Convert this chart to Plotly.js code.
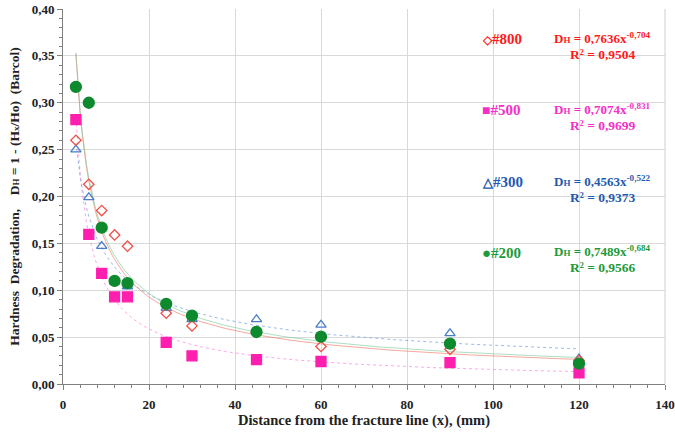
<!DOCTYPE html>
<html>
<head>
<meta charset="utf-8">
<script src="https://cdn.plot.ly/plotly-3.0.1.min.js"></script>
<style>html,body{margin:0;padding:0;background:#fff;}#chart{width:675px;height:432px;}</style>
</head>
<body>
<div id="chart"></div>
<script>
const distance = [3, 6, 9, 12, 15, 24, 30, 45, 60, 90, 120];
const grit800 = [0.260, 0.213, 0.185, 0.159, 0.147, 0.0755, 0.062, 0.055, 0.040, 0.037, 0.025];
const grit500 = [0.282, 0.1595, 0.118, 0.093, 0.093, 0.0445, 0.030, 0.026, 0.024, 0.0228, 0.0118];
const grit300 = [0.250, 0.199, 0.147, 0.109, 0.104, 0.081, 0.069, 0.069, 0.063, 0.054, 0.027];
const grit200 = [0.317, 0.300, 0.1667, 0.110, 0.1075, 0.0855, 0.073, 0.0556, 0.0505, 0.043, 0.0217];
const seriesNames = ['#800', '#500', '#300', '#200'];
const fitCoef = [0.7636, 0.7074, 0.4563, 0.7489];
const fitExp = [-0.704, -0.831, -0.522, -0.684];
const fitR2 = ['0,9504', '0,9699', '0,9373', '0,9566'];
const fitCoefText = ['0,7636', '0,7074', '0,4563', '0,7489'];
const fitExpText = ['-0,704', '-0,831', '-0,522', '-0,684'];
const legendSymbols = ['◇', '■', '△', '●'];

const allY = [grit800, grit500, grit300, grit200];
const markerColors = ['#F0504A', '#FF1FAF', '#4A7EC7', '#0E8A2E'];
const textColors = ['#FF1A1A', '#F52FC8', '#1F5AAE', '#1C9A3A'];
const lineColors = ['rgba(240,110,90,0.6)', 'rgba(255,120,220,0.65)', 'rgba(100,150,220,0.65)', 'rgba(120,200,150,0.6)'];
const symbols = ['diamond-open', 'square', 'triangle-up-open', 'circle'];
const sizes = [8, 10, 9, 11];
const lineDash = ['solid', 'dot', 'dot', 'solid'];

const traces = [];
// trendlines (power fits from the displayed equations)
for (let s = 0; s < 4; s++) {
  const xs = [], ys = [];
  for (let x = 3; x <= 120; x += 0.5) { xs.push(x); ys.push(fitCoef[s] * Math.pow(x, fitExp[s])); }
  traces.push({x: xs, y: ys, mode: 'lines', line: {color: lineColors[s], width: 1, dash: lineDash[s]}, showlegend: false, hoverinfo: 'skip'});
}
// data points
const order = [2, 0, 1, 3];
for (const s of order) {
  traces.push({
    x: distance, y: allY[s], mode: 'markers', name: seriesNames[s],
    marker: {symbol: symbols[s], size: sizes[s], color: markerColors[s], line: {color: markerColors[s], width: 1.3}},
    showlegend: false
  });
}

const F = 'Liberation Serif, Times New Roman, serif';
const annotations = [];
const legY = [0.368, 0.292, 0.215, 0.140];
const symSize = [12, 14, 13, 15];
for (let s = 0; s < 4; s++) {
  annotations.push({x: 97.0, y: legY[s], xref: 'x', yref: 'y', xanchor: 'left', yanchor: 'middle', showarrow: false,
    text: '<b><span style="font-size:' + symSize[s] + 'px">' + legendSymbols[s] + '</span>' + seriesNames[s] + '</b>',
    font: {family: F, size: 15, color: textColors[s]}});
  annotations.push({x: 125.5, y: legY[s] + 0.0015, xref: 'x', yref: 'y', xanchor: 'center', yanchor: 'middle', showarrow: false,
    text: '<b>D<span style="font-size:9px">H</span> = ' + fitCoefText[s] + 'x<sup>' + fitExpText[s] + '</sup></b>',
    font: {family: F, size: 13, color: textColors[s]}});
  annotations.push({x: 125.5, y: legY[s] - 0.0160, xref: 'x', yref: 'y', xanchor: 'center', yanchor: 'middle', showarrow: false,
    text: '<b>R² = ' + fitR2[s] + '</b>',
    font: {family: F, size: 13.5, color: textColors[s]}});
}

const layout = {
  width: 675, height: 432,
  margin: {l: 63, r: 10, t: 9, b: 48},
  paper_bgcolor: '#fff', plot_bgcolor: '#fff',
  separators: ',.',
  showlegend: false,
  font: {family: F, color: '#222'},
  xaxis: {
    range: [0, 140], dtick: 20, tick0: 0,
    showgrid: true, gridcolor: '#d9d9d9', gridwidth: 1,
    showline: true, linecolor: '#808080', linewidth: 1,
    ticks: 'outside', ticklen: 5, tickcolor: '#808080',
    minor: {dtick: 4, ticks: 'outside', ticklen: 3, tickcolor: '#808080', showgrid: false},
    zeroline: false, ticklabelstandoff: 3,
    tickfont: {family: F, size: 13, color: '#222', weight: 'bold'},
    title: {text: '<b>Distance from the fracture line (x), (mm)</b>', font: {family: F, size: 14.5, color: '#222'}, standoff: 4}
  },
  yaxis: {
    range: [0, 0.40], dtick: 0.05, tick0: 0, tickformat: '.2f',
    showgrid: true, gridcolor: '#d9d9d9', gridwidth: 1,
    showline: true, linecolor: '#808080', linewidth: 1,
    ticks: 'outside', ticklen: 5, tickcolor: '#808080',
    minor: {dtick: 0.01, ticks: 'outside', ticklen: 3, tickcolor: '#808080', showgrid: false},
    zeroline: false,
    tickfont: {family: F, size: 13, color: '#222', weight: 'bold'},
    title: {text: '<b>Hardness  Degradation,    D<span style="font-size:9px">H</span> = 1 - (H<span style="font-size:9px">x</span>/Ho)  (Barcol)</b>', font: {family: F, size: 13.5, color: '#222'}, standoff: 8}
  },
  shapes: [{type: 'line', xref: 'paper', yref: 'paper', x0: 1, x1: 1, y0: 0, y1: 1, line: {color: '#d0d0d0', width: 1}}],
  annotations: annotations
};

Plotly.newPlot('chart', traces, layout, {displayModeBar: false, staticPlot: true});
</script>
</body>
</html>
